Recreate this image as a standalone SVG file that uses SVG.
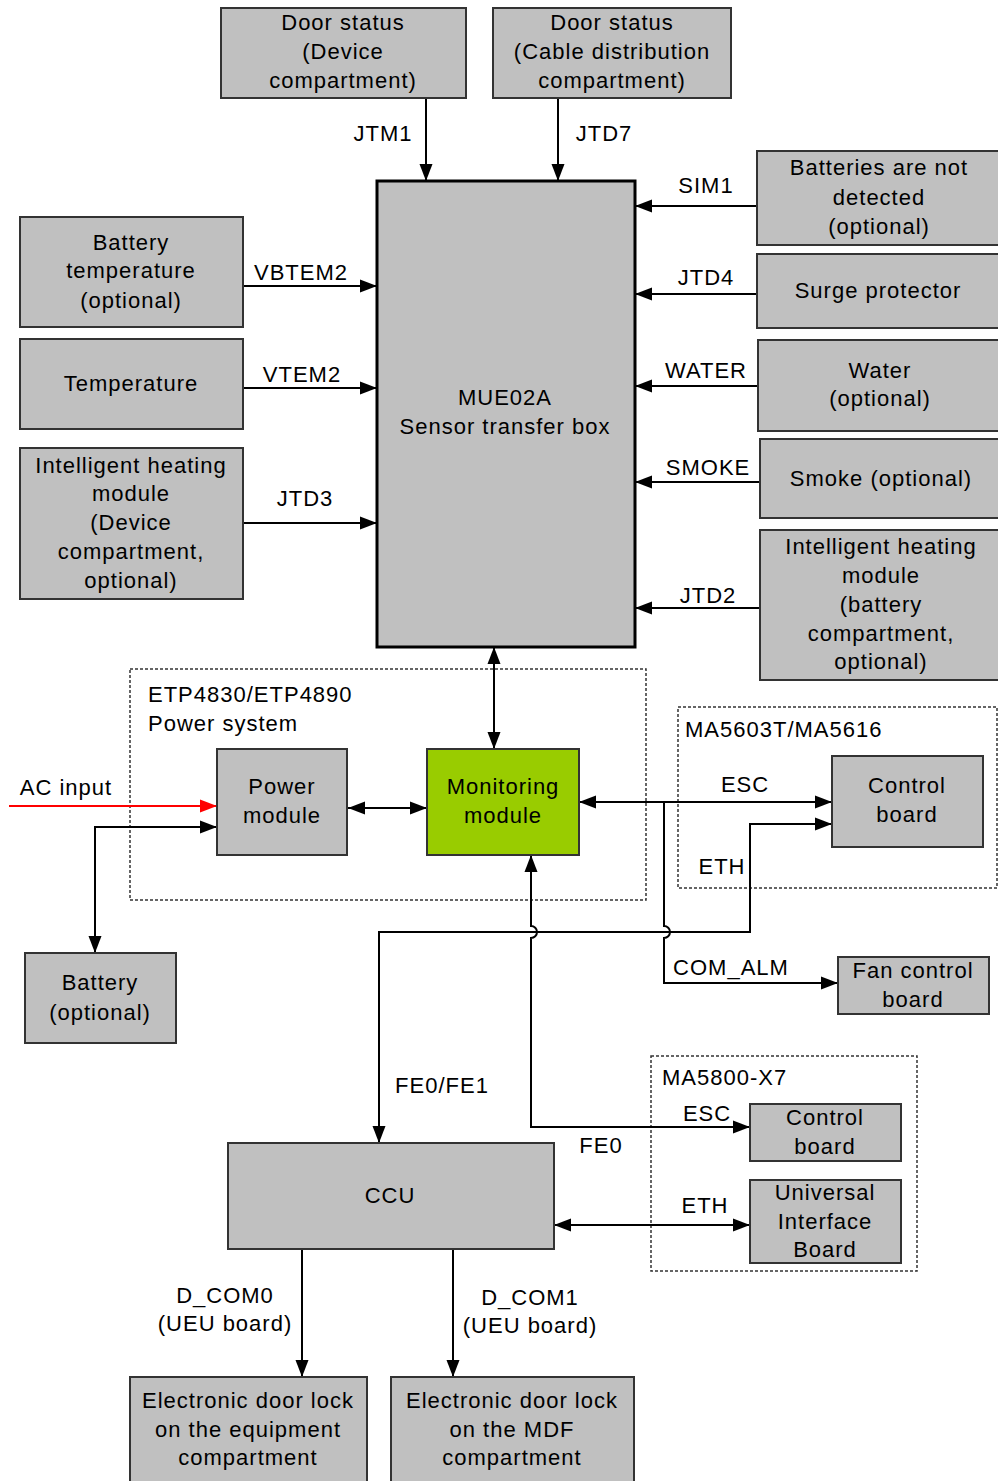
<svg xmlns="http://www.w3.org/2000/svg" width="998" height="1481" viewBox="0 0 998 1481">
<style>
  .box { fill: #c0c0c0; stroke: #333; stroke-width: 2; }
  .green { fill: #99cc00; stroke: #333; stroke-width: 2; }
  .main { fill: #c0c0c0; stroke: #000; stroke-width: 3; }
  .dot { fill: none; stroke: #333; stroke-width: 1.5; stroke-dasharray: 3 2; }
  text { font-family: "Liberation Sans", Arial, sans-serif; font-size: 22px; fill: #000; letter-spacing: 1px; }
  .c { text-anchor: middle; }
  .l { text-anchor: start; }
  .ln { fill: none; stroke: #000; stroke-width: 2; }
  .a1 { marker-end: url(#ah); }
  .a2 { marker-start: url(#ah); marker-end: url(#ah); }
</style>
<defs>
  <marker id="ah" markerUnits="userSpaceOnUse" markerWidth="18" markerHeight="14" refX="17" refY="6.5" orient="auto-start-reverse" viewBox="0 0 18 13">
    <path d="M0,0 L17,6.5 L0,13 z" fill="#000"/>
  </marker>
  <marker id="ahr" markerUnits="userSpaceOnUse" markerWidth="18" markerHeight="14" refX="17" refY="6.5" orient="auto" viewBox="0 0 18 13">
    <path d="M0,0 L17,6.5 L0,13 z" fill="#ff0000"/>
  </marker>
</defs>
<rect width="998" height="1481" fill="#fff"/>

<!-- dotted containers -->
<g id="power-system">
  <rect class="dot" x="130" y="669" width="516" height="231"/>
  <text class="l" x="148" y="702">ETP4830/ETP4890</text>
  <text class="l" x="148" y="731">Power system</text>
</g>
<g id="ma5603t">
  <rect class="dot" x="678" y="707" width="319" height="181"/>
  <text class="l" x="685" y="737">MA5603T/MA5616</text>
</g>
<g id="ma5800">
  <rect class="dot" x="651" y="1056" width="266" height="215"/>
  <text class="l" x="662" y="1085">MA5800-X7</text>
</g>

<!-- connectors -->
<g id="connectors">
  <path class="ln a1" d="M426,98 V181"/>
  <path class="ln a1" d="M558,98 V181"/>
  <path class="ln a1" d="M757,206 H635"/>
  <path class="ln a1" d="M757,294 H635"/>
  <path class="ln a1" d="M758,386 H635"/>
  <path class="ln a1" d="M760,482 H635"/>
  <path class="ln a1" d="M760,608 H635"/>
  <path class="ln a1" d="M243,286 H377"/>
  <path class="ln a1" d="M243,388 H377"/>
  <path class="ln a1" d="M243,523 H377"/>
  <path class="ln a2" d="M494,647 V749"/>
  <path class="ln a2" d="M348,808 H427"/>
  <path d="M9,806 H217" fill="none" stroke="#ff0000" stroke-width="2" marker-end="url(#ahr)"/>
  <path class="ln a2" d="M217,827 H95 V953"/>
  <path class="ln a2" d="M579,802 H832"/>
  <path class="ln a1" d="M664,802 V926 A6,6 0 0 1 664,938 V983 H838"/>
  <path class="ln a2" d="M832,824 H750 V932 H379 V1143"/>
  <path class="ln a2" d="M750,1127 H531 V938 A6,6 0 0 0 531,926 V855"/>
  <path class="ln a2" d="M554,1225 H750"/>
  <path class="ln a1" d="M302,1249 V1377"/>
  <path class="ln a1" d="M453,1249 V1377"/>
  <text class="c" x="383" y="141">JTM1</text>
  <text class="c" x="604" y="141">JTD7</text>
  <text class="c" x="706" y="193">SIM1</text>
  <text class="c" x="706" y="285">JTD4</text>
  <text class="c" x="706" y="378">WATER</text>
  <text class="c" x="708" y="475">SMOKE</text>
  <text class="c" x="708" y="603">JTD2</text>
  <text class="c" x="301" y="280">VBTEM2</text>
  <text class="c" x="302" y="382">VTEM2</text>
  <text class="c" x="305" y="506">JTD3</text>
  <text class="c" x="66" y="795">AC input</text>
  <text class="c" x="745" y="792">ESC</text>
  <text class="c" x="722" y="874">ETH</text>
  <text class="c" x="731" y="975">COM_ALM</text>
  <text class="c" x="442" y="1093">FE0/FE1</text>
  <text class="c" x="707" y="1121">ESC</text>
  <text class="c" x="601" y="1153">FE0</text>
  <text class="c" x="705" y="1213">ETH</text>
  <text class="c" x="225" y="1303">D_COM0</text>
  <text class="c" x="225" y="1331">(UEU board)</text>
  <text class="c" x="530" y="1305">D_COM1</text>
  <text class="c" x="530" y="1333">(UEU board)</text>
</g>

<!-- nodes -->
<g id="door-device">
  <rect class="box" x="221" y="8" width="245" height="90"/>
  <text class="c" x="343" y="30">Door status</text>
  <text class="c" x="343" y="59">(Device</text>
  <text class="c" x="343" y="88">compartment)</text>
</g>
<g id="door-cable">
  <rect class="box" x="493" y="8" width="238" height="90"/>
  <text class="c" x="612" y="30">Door status</text>
  <text class="c" x="612" y="59">(Cable distribution</text>
  <text class="c" x="612" y="88">compartment)</text>
</g>
<g id="mue02a">
  <rect class="main" x="377" y="181" width="258" height="466"/>
  <text class="c" x="505" y="405">MUE02A</text>
  <text class="c" x="505" y="434">Sensor transfer box</text>
</g>
<g id="battery-temp">
  <rect class="box" x="20" y="217" width="223" height="110"/>
  <text class="c" x="131" y="250">Battery</text>
  <text class="c" x="131" y="278">temperature</text>
  <text class="c" x="131" y="308">(optional)</text>
</g>
<g id="temperature">
  <rect class="box" x="20" y="339" width="223" height="90"/>
  <text class="c" x="131" y="391">Temperature</text>
</g>
<g id="heating-device">
  <rect class="box" x="20" y="448" width="223" height="151"/>
  <text class="c" x="131" y="473">Intelligent heating</text>
  <text class="c" x="131" y="501">module</text>
  <text class="c" x="131" y="530">(Device</text>
  <text class="c" x="131" y="559">compartment,</text>
  <text class="c" x="131" y="588">optional)</text>
</g>
<g id="batteries-not-detected">
  <rect class="box" x="757" y="151" width="245" height="94"/>
  <text class="c" x="879" y="175">Batteries are not</text>
  <text class="c" x="879" y="205">detected</text>
  <text class="c" x="879" y="234">(optional)</text>
</g>
<g id="surge">
  <rect class="box" x="757" y="254" width="245" height="74"/>
  <text class="c" x="878" y="298">Surge protector</text>
</g>
<g id="water">
  <rect class="box" x="758" y="340" width="244" height="91"/>
  <text class="c" x="880" y="378">Water</text>
  <text class="c" x="880" y="406">(optional)</text>
</g>
<g id="smoke">
  <rect class="box" x="760" y="439" width="242" height="79"/>
  <text class="c" x="881" y="486">Smoke (optional)</text>
</g>
<g id="heating-battery">
  <rect class="box" x="760" y="530" width="242" height="150"/>
  <text class="c" x="881" y="554">Intelligent heating</text>
  <text class="c" x="881" y="583">module</text>
  <text class="c" x="881" y="612">(battery</text>
  <text class="c" x="881" y="641">compartment,</text>
  <text class="c" x="881" y="669">optional)</text>
</g>
<g id="power-module">
  <rect class="box" x="217" y="749" width="130" height="106"/>
  <text class="c" x="282" y="794">Power</text>
  <text class="c" x="282" y="823">module</text>
</g>
<g id="monitoring-module">
  <rect class="green" x="427" y="749" width="152" height="106"/>
  <text class="c" x="503" y="794">Monitoring</text>
  <text class="c" x="503" y="823">module</text>
</g>
<g id="control-board-1">
  <rect class="box" x="832" y="756" width="151" height="91"/>
  <text class="c" x="907" y="793">Control</text>
  <text class="c" x="907" y="822">board</text>
</g>
<g id="fan-control">
  <rect class="box" x="838" y="957" width="151" height="57"/>
  <text class="c" x="913" y="978">Fan control</text>
  <text class="c" x="913" y="1007">board</text>
</g>
<g id="battery">
  <rect class="box" x="25" y="953" width="151" height="90"/>
  <text class="c" x="100" y="990">Battery</text>
  <text class="c" x="100" y="1020">(optional)</text>
</g>
<g id="ccu">
  <rect class="box" x="228" y="1143" width="326" height="106"/>
  <text class="c" x="390" y="1203">CCU</text>
</g>
<g id="control-board-2">
  <rect class="box" x="750" y="1104" width="151" height="57"/>
  <text class="c" x="825" y="1125">Control</text>
  <text class="c" x="825" y="1154">board</text>
</g>
<g id="uib">
  <rect class="box" x="750" y="1180" width="151" height="83"/>
  <text class="c" x="825" y="1200">Universal</text>
  <text class="c" x="825" y="1229">Interface</text>
  <text class="c" x="825" y="1257">Board</text>
</g>
<g id="lock-equipment">
  <rect class="box" x="130" y="1377" width="237" height="110"/>
  <text class="c" x="248" y="1408">Electronic door lock</text>
  <text class="c" x="248" y="1437">on the equipment</text>
  <text class="c" x="248" y="1465">compartment</text>
</g>
<g id="lock-mdf">
  <rect class="box" x="391" y="1377" width="243" height="110"/>
  <text class="c" x="512" y="1408">Electronic door lock</text>
  <text class="c" x="512" y="1437">on the MDF</text>
  <text class="c" x="512" y="1465">compartment</text>
</g>
</svg>
